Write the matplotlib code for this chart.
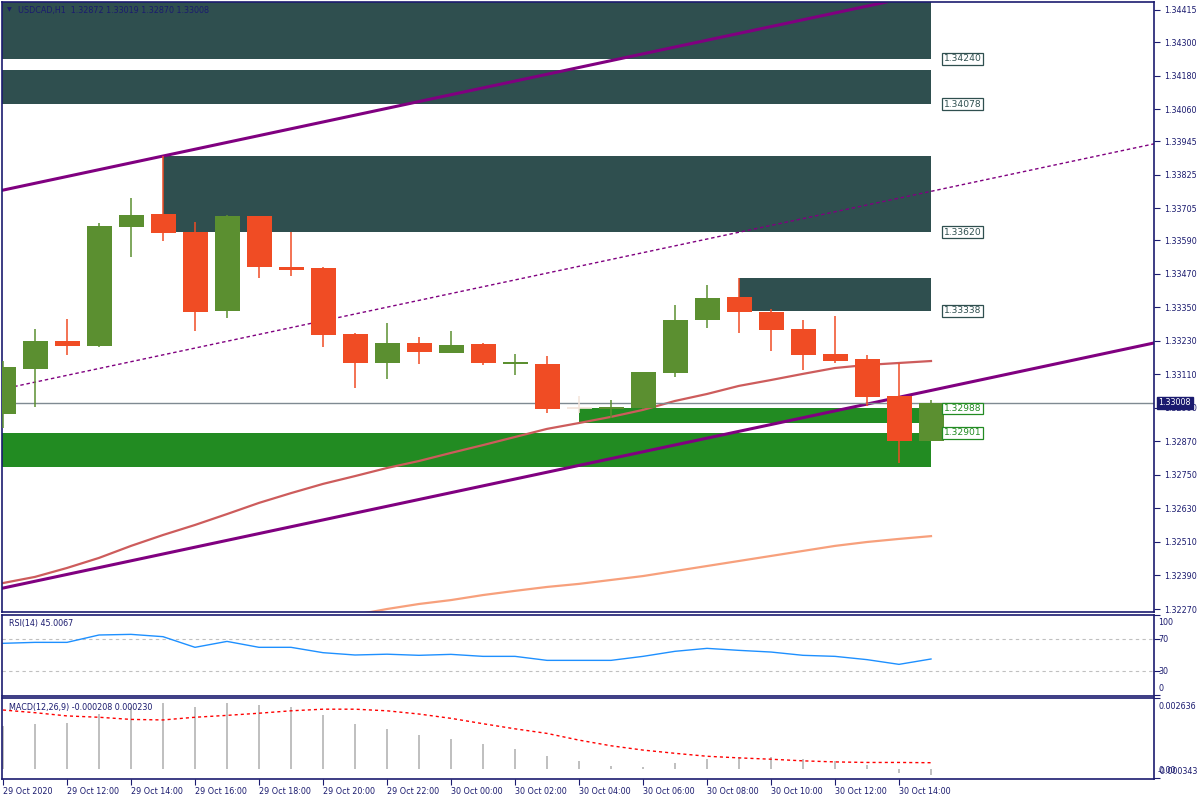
import matplotlib
matplotlib.use("Agg")
import matplotlib.pyplot as plt
import matplotlib.transforms as mtransforms
import numpy as np

# ---------------- data ----------------
time_labels = ["29 Oct 2020", "29 Oct 12:00", "29 Oct 14:00", "29 Oct 16:00", "29 Oct 18:00",
               "29 Oct 20:00", "29 Oct 22:00", "30 Oct 00:00", "30 Oct 02:00", "30 Oct 04:00",
               "30 Oct 06:00", "30 Oct 08:00", "30 Oct 10:00", "30 Oct 12:00", "30 Oct 14:00"]

opens = [1.32968, 1.33129, 1.33230, 1.33212, 1.33638, 1.33685, 1.33620, 1.33337, 1.33677, 1.33495,
         1.33491, 1.33255, 1.33151, 1.33223, 1.33187, 1.33219, 1.33147, 1.33147, 1.32990, 1.32986,
         1.32990, 1.33115, 1.33305, 1.33387, 1.33334, 1.33273, 1.33183, 1.33165, 1.33033, 1.32872]
highs = [1.33158, 1.33273, 1.33308, 1.33652, 1.33742, 1.33893, 1.33656, 1.33681, 1.33677, 1.33620,
         1.33495, 1.33258, 1.33294, 1.33244, 1.33266, 1.33223, 1.33183, 1.33176, 1.33033, 1.33018,
         1.33119, 1.33359, 1.33430, 1.33455, 1.33344, 1.33305, 1.33319, 1.33180, 1.33151, 1.33019]
lows = [1.32918, 1.32993, 1.33180, 1.33208, 1.33530, 1.33588, 1.33266, 1.33312, 1.33455, 1.33462,
        1.33208, 1.33061, 1.33094, 1.33147, 1.33187, 1.33144, 1.33108, 1.32972, 1.32972, 1.32954,
        1.32985, 1.33101, 1.33276, 1.33258, 1.33194, 1.33126, 1.33151, 1.32997, 1.32793, 1.32870]
closes = [1.33137, 1.33230, 1.33212, 1.33641, 1.33681, 1.33616, 1.33334, 1.33677, 1.33495, 1.33484,
          1.33251, 1.33151, 1.33223, 1.33190, 1.33215, 1.33151, 1.33155, 1.32986, 1.32990, 1.32993,
          1.33119, 1.33305, 1.33384, 1.33334, 1.33269, 1.33180, 1.33158, 1.33029, 1.32872, 1.33008]

ma_fast = [1.32363, 1.32385, 1.32417, 1.32453, 1.32496, 1.32535, 1.32571, 1.32610, 1.32650, 1.32685,
           1.32718, 1.32746, 1.32775, 1.32800, 1.32829, 1.32857, 1.32886, 1.32915, 1.32936, 1.32958,
           1.32983, 1.33015, 1.33040, 1.33069, 1.33090, 1.33112, 1.33133, 1.33144, 1.33151, 1.33158]
ma_slow_start = 10
ma_slow = [1.32227, 1.32249, 1.32270, 1.32288, 1.32302, 1.32320, 1.32335, 1.32349, 1.32360, 1.32374,
           1.32388, 1.32406, 1.32424, 1.32442, 1.32460, 1.32478, 1.32496, 1.32510, 1.32521, 1.32531]

rsi_vals = [64.6, 65.8, 65.8, 75.0, 75.8, 72.9, 59.6, 67.0, 59.6, 59.6,
            52.9, 50.0, 51.0, 49.6, 50.8, 48.3, 48.3, 43.3, 43.3, 43.3,
            48.3, 54.6, 58.3, 55.8, 53.7, 49.6, 48.3, 44.2, 38.3, 45.0067]

macd_hist = [0.001605, 0.001668, 0.001705, 0.00204, 0.00229, 0.00244, 0.00230, 0.00245, 0.002364, 0.00230,
             0.002003, 0.001668, 0.00149, 0.001259, 0.00111, 0.000923, 0.000737, 0.000477, 0.00029, 0.000104,
             0.000067, 0.000216, 0.000365, 0.00044, 0.00044, 0.000365, 0.00029, 0.000141, -0.00014, -0.000208]
macd_signal = [0.00219, 0.00209, 0.00197, 0.00192, 0.00184, 0.00182, 0.00192, 0.00199, 0.00207, 0.00216,
               0.00222, 0.00222, 0.00216, 0.00204, 0.00188, 0.00168, 0.00149, 0.00132, 0.00107, 0.00086,
               0.00070, 0.00058, 0.00047, 0.00041, 0.00036, 0.00030, 0.00026, 0.00024, 0.00024, 0.00023]

price_ticks = [1.34415, 1.34300, 1.34180, 1.34060, 1.33945, 1.33825, 1.33705, 1.33590, 1.33470, 1.33350,
               1.33230, 1.33110, 1.32990, 1.32870, 1.32750, 1.32630, 1.32510, 1.32390, 1.32270]

# zones: (left candle, right candle, bottom price, top price, kind, label price)
zones = [(-3, 29, 1.34240, 1.34460, "dark", 1.34240),
         (-3, 29, 1.34078, 1.34200, "dark", 1.34078),
         (5, 29, 1.33620, 1.33893, "dark", 1.33620),
         (23, 29, 1.33338, 1.33455, "dark", 1.33338),
         (18, 29, 1.32936, 1.32988, "green", 1.32988),
         (-3, 29, 1.32779, 1.32901, "green", 1.32901)]

# trend lines: two anchor points each (candle index, price)
upper_line = ((0, 1.33770), (30, 1.34502))
middle_line = ((0, 1.33058), (30, 1.33790))
lower_line = ((0, 1.32345), (30, 1.33077))

current_price = 1.33008

# ---------------- style ----------------
NAVY = "#1b1b6f"
BULL = "#5b8f30"
BEAR = "#f04c24"
DOJI = "#f4e4da"
DARKZ = "#2f4f4f"
GREENZ = "#228b22"
FS = 5.8

W, H = 1200, 800
fig = plt.figure(figsize=(12, 8), dpi=100)
fig.patch.set_facecolor("white")

def add_ax(top, bottom, left=2, right=1154):
    return fig.add_axes([left / W, 1 - bottom / H, (right - left) / W, (bottom - top) / H])

ax = add_ax(2, 612)
ax_rsi = add_ax(615, 696)
ax_macd = add_ax(698, 779)

xlim = (-1 / 32, 1151 / 32)
for a in (ax, ax_rsi, ax_macd):
    a.set_xlim(*xlim)
    for s in a.spines.values():
        s.set_color(NAVY)
        s.set_linewidth(1.2)
    a.set_facecolor("white")
    a.yaxis.tick_right()
    a.tick_params(axis="y", direction="out", length=4, width=0.8, color=NAVY,
                  labelcolor=NAVY, labelsize=FS, pad=3)
    a.tick_params(axis="x", length=0)
    a.set_xticks([])

# ---------------- main panel ----------------
ax.set_ylim(1.322593, 1.344436)
n = len(opens)
idx = np.arange(n)

for (l, r, b, t, kind, lab) in zones:
    col = DARKZ if kind == "dark" else GREENZ
    ax.add_patch(plt.Rectangle((l, b), r - l, t - b, facecolor=col, edgecolor="none", zorder=1))
    ax.text(29.4, lab, f"{lab:.5f}", ha="left", va="center", fontsize=6.6,
            color=col, zorder=6,
            bbox=dict(boxstyle="square,pad=0.15", fc="white", ec=col, lw=0.9))

for (p1, p2), ls, lw in ((upper_line, "-", 2.2), (lower_line, "-", 2.2), (middle_line, (0, (2.5, 2.0)), 1.0)):
    ax.axline(p1, p2, color="#800080", lw=lw, linestyle=ls, zorder=2)

ax.plot(idx, ma_fast, color="#cd5c5c", lw=1.6, zorder=2)
ax.plot(np.arange(ma_slow_start, ma_slow_start + len(ma_slow)), ma_slow, color="#f7a07c", lw=1.6, zorder=2)

ax.axhline(current_price, color="#7f8a92", lw=1.0, zorder=2)

bw = 25 / 32
for i in range(n):
    o, h, l, c = opens[i], highs[i], lows[i], closes[i]
    if c > o:
        col = BULL
    elif c < o:
        col = BEAR
    else:
        col = DOJI
    ax.vlines(i, l, h, color=col, lw=1.1, zorder=3)
    if c == o:
        ax.hlines(o, i - bw / 2, i + bw / 2, color=col, lw=1.2, zorder=3)
    else:
        ax.bar(i, abs(c - o), bottom=min(o, c), width=bw, color=col, edgecolor="none", zorder=3)

ax.set_yticks(price_ticks)
ax.set_yticklabels([f"{v:.5f}" for v in price_ticks])

blend = mtransforms.blended_transform_factory(ax.transAxes, ax.transData)
ax.text(1.004, current_price, f"{current_price:.5f}", transform=blend, ha="left", va="center",
        fontsize=FS, color="white", zorder=10, clip_on=False,
        bbox=dict(boxstyle="square,pad=0.2", fc=NAVY, ec=NAVY))

fig.text(7 / W, 1 - 10 / H, "▼", fontsize=4.5, color=NAVY, va="center", ha="left")
fig.text(18 / W, 1 - 10 / H, f"USDCAD,H1  {opens[-1]:.5f} {highs[-1]:.5f} {lows[-1]:.5f} {closes[-1]:.5f}",
         fontsize=FS, color=NAVY, va="center", ha="left")

# ---------------- RSI ----------------
ax_rsi.set_ylim(-1.25, 100)
ax_rsi.axhline(70, color="#c0c0c0", lw=0.8, linestyle=(0, (3, 3)))
ax_rsi.axhline(30, color="#c0c0c0", lw=0.8, linestyle=(0, (3, 3)))
ax_rsi.plot(idx, rsi_vals, color="#1e90ff", lw=1.0)
ax_rsi.set_yticks([100, 70, 30, 0])
ax_rsi.set_yticklabels([])
rb = mtransforms.blended_transform_factory(ax_rsi.transAxes, ax_rsi.transData)
for val, pos in ((100, 91), (70, 70), (30, 30), (0, 8)):
    ax_rsi.text(1.0035, pos, str(val), transform=rb, fontsize=FS, color=NAVY, ha="left", va="center", clip_on=False)
ax_rsi.text(7 / 1152, 0.9, f"RSI(14) {rsi_vals[-1]:.4f}", transform=ax_rsi.transAxes,
            fontsize=FS, color=NAVY, ha="left", va="center")

# ---------------- MACD ----------------
ax_macd.set_ylim(-0.000375, 0.002636)
ax_macd.bar(idx, macd_hist, width=0.09, color="#c0c0c0", edgecolor="none")
ax_macd.plot(idx, macd_signal, color="#ff0000", lw=1.0, linestyle=(0, (2.2, 2.2)))
ax_macd.set_yticks([0.002636, -0.000343])
ax_macd.set_yticklabels([])
mb = mtransforms.blended_transform_factory(ax_macd.transAxes, ax_macd.transAxes)
ax_macd.text(1.0035, 0.9, "0.002636", transform=mb, fontsize=FS, color=NAVY, ha="left", va="center", clip_on=False)
ax_macd.text(1.0035, 0.09, "-0.000343", transform=mb, fontsize=FS, color=NAVY, ha="left", va="center", clip_on=False)
ax_macd.text(1.0035, 0.11, "0.00", transform=mb, fontsize=FS, color=NAVY, ha="left", va="center", clip_on=False)
ax_macd.text(7 / 1152, 0.88, f"MACD(12,26,9) {macd_hist[-1]:.6f} {macd_signal[-1]:.6f}",
             transform=ax_macd.transAxes, fontsize=FS, color=NAVY, ha="left", va="center")

xt = list(range(0, 2 * len(time_labels), 2))
ax_macd.set_xticks(xt)
ax_macd.set_xticklabels(time_labels)
ax_macd.tick_params(axis="x", direction="out", length=4, width=0.8, color=NAVY,
                    labelcolor=NAVY, labelsize=FS, pad=2)
for lbl in ax_macd.get_xticklabels():
    lbl.set_horizontalalignment("left")

fig.savefig("out.png", dpi=100)
